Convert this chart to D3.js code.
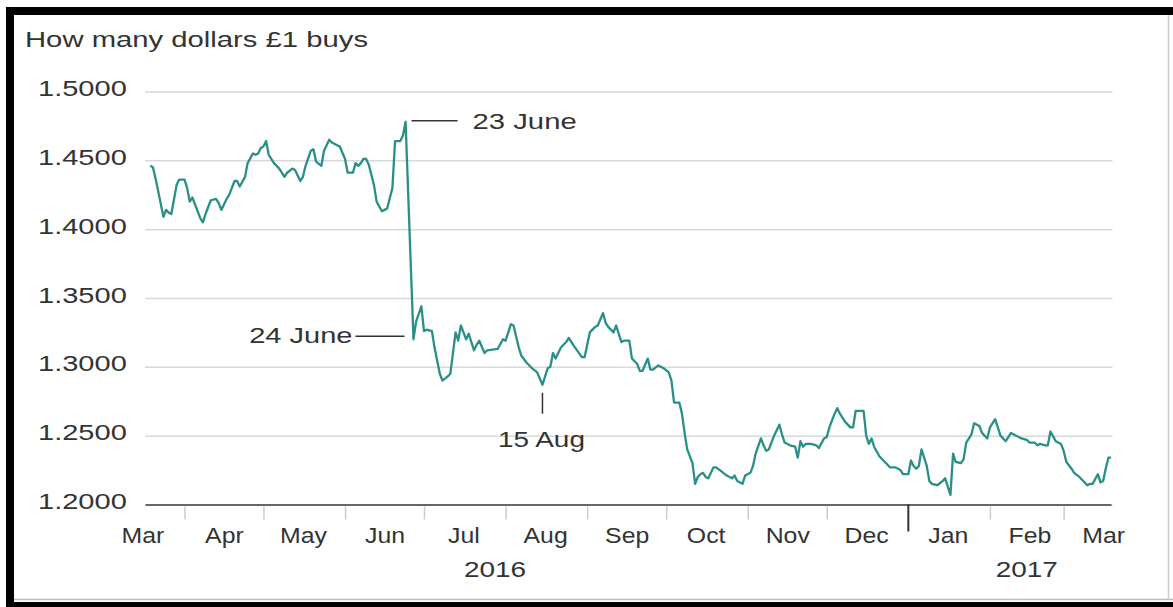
<!DOCTYPE html>
<html>
<head>
<meta charset="utf-8">
<script src="https://cdn.jsdelivr.net/npm/d3@7"></script>
<style>
body { margin: 0; background: #fff; }
svg text { font-family: "Liberation Sans", Arial, Helvetica, sans-serif; font-size: 22px; fill: #333; }
</style>
</head>
<body>
<script>
// how many dollars one pound buys
var dates = [
  "2016-03-19","2016-03-20","2016-03-21","2016-03-24","2016-03-25","2016-03-26","2016-03-27","2016-03-29","2016-03-30",
  "2016-04-01","2016-04-02","2016-04-03","2016-04-04","2016-04-05","2016-04-06","2016-04-07","2016-04-08","2016-04-09",
  "2016-04-11","2016-04-13","2016-04-14","2016-04-15","2016-04-17","2016-04-18","2016-04-20","2016-04-21","2016-04-22",
  "2016-04-24","2016-04-25","2016-04-27","2016-04-28","2016-04-29","2016-04-30",
  "2016-05-01","2016-05-02","2016-05-03","2016-05-05","2016-05-06","2016-05-07","2016-05-09","2016-05-10","2016-05-12",
  "2016-05-13","2016-05-15","2016-05-16","2016-05-17","2016-05-19","2016-05-20","2016-05-21","2016-05-23","2016-05-24",
  "2016-05-26","2016-05-27","2016-05-29","2016-05-30",
  "2016-06-01","2016-06-02","2016-06-04","2016-06-05","2016-06-06","2016-06-07","2016-06-08","2016-06-09","2016-06-10",
  "2016-06-12","2016-06-13","2016-06-15","2016-06-16","2016-06-17","2016-06-19","2016-06-20","2016-06-22","2016-06-23",
  "2016-06-24","2016-06-27","2016-06-28","2016-06-30",
  "2016-07-01","2016-07-02","2016-07-04","2016-07-05","2016-07-07","2016-07-08","2016-07-10","2016-07-11","2016-07-13",
  "2016-07-14","2016-07-15","2016-07-17","2016-07-18","2016-07-19","2016-07-20","2016-07-21","2016-07-22","2016-07-24",
  "2016-07-25","2016-07-29","2016-07-31",
  "2016-08-01","2016-08-03","2016-08-04","2016-08-06","2016-08-07","2016-08-09","2016-08-11","2016-08-13","2016-08-15",
  "2016-08-17","2016-08-18","2016-08-19","2016-08-20","2016-08-22","2016-08-24","2016-08-25","2016-08-27","2016-08-30",
  "2016-08-31",
  "2016-09-02","2016-09-04","2016-09-05","2016-09-07","2016-09-08","2016-09-09","2016-09-11","2016-09-12","2016-09-14",
  "2016-09-15","2016-09-17","2016-09-18","2016-09-20","2016-09-21","2016-09-22","2016-09-24","2016-09-25","2016-09-26",
  "2016-09-28","2016-09-30",
  "2016-10-02","2016-10-03","2016-10-04","2016-10-06","2016-10-07","2016-10-08","2016-10-09","2016-10-11","2016-10-12",
  "2016-10-13","2016-10-14","2016-10-15","2016-10-16","2016-10-17","2016-10-19","2016-10-20","2016-10-22","2016-10-24",
  "2016-10-26","2016-10-27","2016-10-28","2016-10-30","2016-10-31",
  "2016-11-02","2016-11-03","2016-11-04","2016-11-06","2016-11-07","2016-11-08","2016-11-09","2016-11-11","2016-11-13",
  "2016-11-14","2016-11-15","2016-11-17","2016-11-19","2016-11-20","2016-11-21","2016-11-22","2016-11-23","2016-11-25",
  "2016-11-27","2016-11-28","2016-11-30",
  "2016-12-01","2016-12-02","2016-12-04","2016-12-05","2016-12-06","2016-12-08","2016-12-10","2016-12-11","2016-12-12",
  "2016-12-14","2016-12-15","2016-12-16","2016-12-17","2016-12-18","2016-12-19","2016-12-21","2016-12-22","2016-12-24",
  "2016-12-25","2016-12-27","2016-12-29","2016-12-30",
  "2017-01-01","2017-01-02","2017-01-03","2017-01-04","2017-01-05","2017-01-06","2017-01-08","2017-01-09","2017-01-10",
  "2017-01-12","2017-01-14","2017-01-15","2017-01-17","2017-01-18","2017-01-19","2017-01-21","2017-01-22","2017-01-23",
  "2017-01-25","2017-01-26","2017-01-28","2017-01-29","2017-01-31",
  "2017-02-01","2017-02-03","2017-02-04","2017-02-05","2017-02-07","2017-02-08","2017-02-09","2017-02-11","2017-02-13",
  "2017-02-15","2017-02-16","2017-02-18","2017-02-19","2017-02-20","2017-02-22","2017-02-23","2017-02-24","2017-02-26",
  "2017-02-28",
  "2017-03-01","2017-03-02","2017-03-04","2017-03-05","2017-03-07","2017-03-09","2017-03-10","2017-03-11","2017-03-12",
  "2017-03-14","2017-03-15","2017-03-16","2017-03-17","2017-03-18","2017-03-19"
];
var rates = [
  1.446,1.445,1.437,1.409,1.414,1.412,1.411,1.432,1.436,
  1.436,1.430,1.420,1.423,1.418,1.413,1.408,1.405,1.411,
  1.421,1.422,1.419,1.414,1.422,1.425,1.435,1.435,1.431,
  1.438,1.448,1.455,1.454,1.455,1.459,
  1.460,1.464,1.454,1.448,1.446,1.444,1.438,1.441,1.444,
  1.443,1.435,1.438,1.446,1.457,1.458,1.449,1.446,1.457,
  1.465,1.463,1.461,1.460,
  1.451,1.441,1.441,1.448,1.446,1.448,1.451,1.451,1.447,
  1.432,1.420,1.413,1.414,1.415,1.430,1.464,1.464,1.468,
  1.478,1.320,1.333,1.344,
  1.326,1.327,1.326,1.314,1.295,1.290,1.293,1.295,1.325,
  1.319,1.330,1.320,1.324,1.318,1.312,1.316,1.319,1.310,
  1.312,1.313,1.320,
  1.319,1.331,1.330,1.314,1.308,1.303,1.299,1.296,1.287,
  1.299,1.300,1.310,1.306,1.314,1.318,1.321,1.315,1.307,
  1.307,
  1.325,1.329,1.330,1.339,1.332,1.329,1.325,1.330,1.318,
  1.319,1.319,1.306,1.302,1.297,1.297,1.306,1.298,1.298,
  1.301,1.299,
  1.296,1.290,1.274,1.274,1.266,1.252,1.240,1.230,1.215,
  1.220,1.222,1.223,1.220,1.219,1.227,1.227,1.224,1.221,
  1.219,1.221,1.217,1.215,1.221,
  1.223,1.228,1.237,1.248,1.243,1.239,1.240,1.250,1.258,
  1.251,1.245,1.243,1.242,1.234,1.246,1.242,1.244,1.244,
  1.243,1.241,1.248,
  1.249,1.256,1.266,1.270,1.266,1.260,1.256,1.256,1.268,
  1.268,1.268,1.250,1.244,1.248,1.242,1.235,1.233,1.229,
  1.227,1.227,1.225,1.222,
  1.222,1.232,1.228,1.226,1.228,1.240,1.228,1.217,1.215,
  1.214,1.217,1.219,1.207,1.237,1.231,1.230,1.233,1.245,
  1.251,1.259,1.257,1.252,1.248,
  1.256,1.262,1.256,1.250,1.246,1.249,1.252,1.250,1.248,
  1.247,1.245,1.245,1.243,1.244,1.243,1.243,1.253,1.246,
  1.244,
  1.239,1.231,1.226,1.223,1.220,1.216,1.214,1.215,1.215,
  1.222,1.216,1.217,1.226,1.234,1.234
];
var yTicks = [1.2, 1.25, 1.3, 1.35, 1.4, 1.45, 1.5];
var years = ["2016", "2017"];
var title = "How many dollars £1 buys";
var notes = ["23 June", "24 June", "15 Aug"];

var parse = d3.timeParse("%Y-%m-%d");
var points = dates.map(function(d, i){ return { date: parse(d), rate: rates[i] }; });

var W = 1173, H = 607;
var svg = d3.select("body").append("svg")
  .attr("width", W)
  .attr("height", H);

var x = d3.scaleTime()
  .domain([new Date(2016, 2, 17), new Date(2017, 2, 19)])
  .range([145, 1111]);
var y = d3.scaleLinear()
  .domain([1.2, 1.5])
  .range([504.5, 91.5]);

function addText(str, tx, ty, anchor, sx) {
  return svg.append("text")
    .attr("transform", "translate(" + tx + "," + ty + ") scale(" + sx + ",1)")
    .attr("text-anchor", anchor)
    .text(str);
}

// frame
svg.append("rect").attr("x", 6).attr("y", 7).attr("width", W - 6).attr("height", 8).attr("fill", "#000");
svg.append("rect").attr("x", 6).attr("y", 7).attr("width", 8).attr("height", H - 7).attr("fill", "#000");
svg.append("rect").attr("x", 6).attr("y", 602).attr("width", W - 6).attr("height", 5).attr("fill", "#000");
svg.append("line").attr("x1", 14).attr("x2", W).attr("y1", 599.5).attr("y2", 599.5)
  .attr("stroke", "#bbb").attr("stroke-width", 1.5);
svg.append("line").attr("x1", 1168.5).attr("x2", 1168.5).attr("y1", 15).attr("y2", 600)
  .attr("stroke", "#ccc").attr("stroke-width", 1.5);

addText(title, 25, 47, "start", 1.33);

// gridlines + y labels
var yAxis = svg.append("g")
  .attr("transform", "translate(145,0)")
  .call(d3.axisLeft(y).tickValues(yTicks).tickSize(-(1112.5 - 145)).tickFormat(d3.format(".4f")));
yAxis.select(".domain").remove();
yAxis.selectAll(".tick line").attr("stroke", "#d9d9d9").attr("stroke-width", 1.5);
yAxis.selectAll(".tick text")
  .attr("x", 0).attr("dy", null)
  .attr("text-anchor", "start")
  .attr("fill", "#333")
  .style("font-size", "22px")
  .attr("transform", "translate(-107,4) scale(1.32,1)");

// x axis: month ticks
var monthStarts = d3.timeMonth.range(new Date(2016, 3, 1), new Date(2017, 2, 2))
  .filter(function(d){ return d.getMonth() !== 0; });
var xAxis = svg.append("g")
  .attr("transform", "translate(0," + y(1.2) + ")")
  .call(d3.axisBottom(x).tickValues(monthStarts).tickSize(15).tickSizeOuter(0).tickFormat(""));
xAxis.select(".domain").attr("stroke", "#666").attr("stroke-width", 2);
xAxis.selectAll(".tick line").attr("stroke", "#ccc").attr("stroke-width", 1.5).attr("y1", 2);

// year boundary tick
svg.append("line")
  .attr("x1", x(new Date(2017, 0, 1))).attr("x2", x(new Date(2017, 0, 1)))
  .attr("y1", y(1.2)).attr("y2", y(1.2) + 27)
  .attr("stroke", "#333").attr("stroke-width", 2);

// month labels in the middle of each month
var monthMids = d3.timeMonth.range(new Date(2016, 2, 1), new Date(2017, 2, 2))
  .map(function(d){ return new Date(d.getFullYear(), d.getMonth(), 16); });
var labelAxis = svg.append("g")
  .attr("transform", "translate(0," + y(1.2) + ")")
  .call(d3.axisBottom(x).tickValues(monthMids).tickSize(0).tickFormat(d3.timeFormat("%b")));
labelAxis.select(".domain").remove();
labelAxis.selectAll(".tick text")
  .attr("y", 0).attr("dy", null)
  .attr("fill", "#333")
  .style("font-size", "22px")
  .attr("transform", "translate(0,38.5) scale(1.13,1)");

addText(years[0], x(new Date(2016, 6, 28)), 577, "middle", 1.27);
addText(years[1], x(new Date(2017, 1, 15)), 577, "middle", 1.27);

// the line
var line = d3.line()
  .x(function(d){ return x(d.date); })
  .y(function(d){ return y(d.rate); });
svg.append("path")
  .datum(points)
  .attr("fill", "none")
  .attr("stroke", "#2a8f89")
  .attr("stroke-width", 2.3)
  .attr("stroke-linejoin", "round")
  .attr("d", line);

// annotations
var peakIdx = d3.maxIndex(points, function(d){ return d.rate; });
var peak = points[peakIdx];
var drop = points[peakIdx + 1];
var aug = points.find(function(d){ return +d.date === +parse("2016-08-15"); });

svg.append("line")
  .attr("x1", x(peak.date) + 6).attr("x2", x(peak.date) + 52)
  .attr("y1", y(peak.rate) - 1).attr("y2", y(peak.rate) - 1)
  .attr("stroke", "#333").attr("stroke-width", 1.5);
addText(notes[0], x(peak.date) + 67, y(peak.rate) + 7, "start", 1.33);

svg.append("line")
  .attr("x1", x(drop.date) - 58).attr("x2", x(drop.date) - 9)
  .attr("y1", y(drop.rate) - 3).attr("y2", y(drop.rate) - 3)
  .attr("stroke", "#333").attr("stroke-width", 1.5);
addText(notes[1], x(drop.date) - 61, y(drop.rate) + 4, "end", 1.32);

svg.append("line")
  .attr("x1", x(aug.date)).attr("x2", x(aug.date))
  .attr("y1", y(aug.rate) + 8).attr("y2", y(aug.rate) + 29)
  .attr("stroke", "#333").attr("stroke-width", 1.5);
addText(notes[2], x(aug.date) - 1, y(aug.rate) + 62, "middle", 1.27);
</script>
</body>
</html>
